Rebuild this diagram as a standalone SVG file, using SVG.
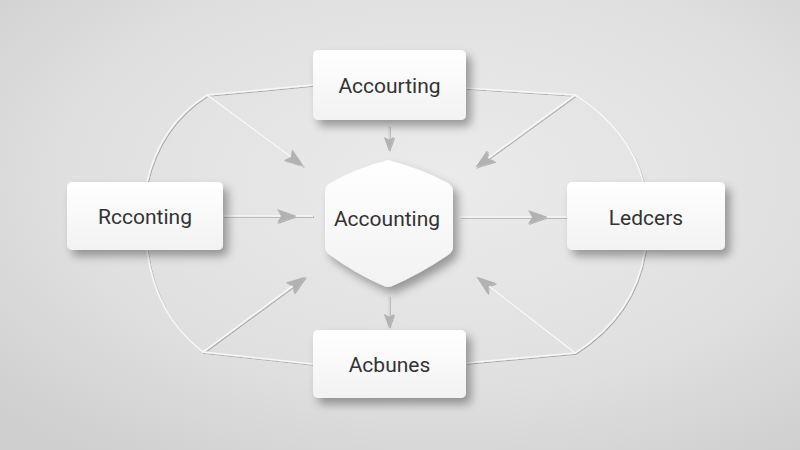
<svg xmlns="http://www.w3.org/2000/svg" width="800" height="450" viewBox="0 0 800 450">
<defs>
<radialGradient id="bg" cx="0.55" cy="0.4" r="0.75">
<stop offset="0" stop-color="#ebebeb"/>
<stop offset="0.6" stop-color="#e0e0e0"/>
<stop offset="1" stop-color="#cfcfcf"/>
</radialGradient>
<linearGradient id="nodefill" x1="0" y1="0" x2="0" y2="1">
<stop offset="0" stop-color="#ffffff"/>
<stop offset="1" stop-color="#f2f2f2"/>
</linearGradient>
<filter id="shadow" x="-20%" y="-20%" width="150%" height="160%">
<feGaussianBlur in="SourceAlpha" stdDeviation="5"/>
<feOffset dx="5" dy="6" result="b"/>
<feComponentTransfer><feFuncA type="linear" slope="0.35"/></feComponentTransfer>
<feMerge><feMergeNode/><feMergeNode in="SourceGraphic"/></feMerge>
</filter>
<filter id="lineshadow" x="-10%" y="-10%" width="120%" height="120%">
<feGaussianBlur in="SourceAlpha" stdDeviation="0.6"/>
<feOffset dx="0.5" dy="1" result="b"/>
<feComponentTransfer><feFuncA type="linear" slope="0.25"/></feComponentTransfer>
<feMerge><feMergeNode/><feMergeNode in="SourceGraphic"/></feMerge>
</filter>
<marker id="arr" viewBox="0 0 20 14" refX="19" refY="7" markerWidth="20" markerHeight="14" markerUnits="userSpaceOnUse" orient="auto">
<path d="M0,0 L20,7 L0,14 L4,7 Z" fill="#b2b2b2"/>
</marker>
<marker id="arrs" viewBox="0 0 16 12" refX="15" refY="6" markerWidth="14" markerHeight="11" markerUnits="userSpaceOnUse" orient="auto">
<path d="M0,0 L16,6 L0,12 L3,6 Z" fill="#b2b2b2"/>
</marker>
</defs>
<style>
.node{fill:url(#nodefill);filter:url(#shadow);}
.lbl{font-family:Roboto,"Noto Sans","Liberation Sans",sans-serif;font-size:21px;fill:#333333;text-anchor:middle;dominant-baseline:central;}
.ln{fill:none;stroke:#f7f7f7;stroke-width:1.6;}
.ar{fill:none;stroke:#f7f7f7;stroke-width:1.6;marker-end:url(#arr);}
.ars{fill:none;stroke:#d8d8d8;stroke-width:1.4;marker-end:url(#arrs);}
</style>
<rect width="800" height="450" fill="url(#bg)"/>
<g id="connectors" filter="url(#lineshadow)">
<path class="ln" d="M313,85 L207,95 Q160,125 147,182"/>
<path class="ln" d="M466,88 L575,95 Q630,130 643,182"/>
<path class="ln" d="M147,250 Q155,315 203,352 L313,364"/>
<path class="ln" d="M645,250 Q635,315 575,353 L466,363"/>
<path class="ar" d="M207,95 L303,166"/>
<path class="ar" d="M575,95 L476,167"/>
<path class="ar" d="M203,352 L305,277"/>
<path class="ar" d="M575,353 L477,277"/>
<path class="ar" d="M223,216 L296,216"/>
<path class="ln" d="M296,216 L313,216"/>
<path class="ar" d="M460,217 L547,217"/>
<path class="ln" d="M547,217 L567,217"/>
<path class="ars" d="M389,126 L389,150"/>
<path class="ars" d="M389,296 L389,327"/>
</g>
<g id="node-top">
<rect class="node" x="313" y="50" width="153" height="70" rx="5"/>
<text class="lbl" x="389.5" y="86">Accourting</text>
</g>
<g id="node-left">
<rect class="node" x="67" y="182" width="156" height="68" rx="5"/>
<text class="lbl" x="145" y="217">Rcconting</text>
</g>
<g id="node-right">
<rect class="node" x="567" y="182" width="158" height="68" rx="5"/>
<text class="lbl" x="646" y="218">Ledcers</text>
</g>
<g id="node-bottom">
<rect class="node" x="313" y="330" width="153" height="68" rx="5"/>
<text class="lbl" x="389.5" y="365">Acbunes</text>
</g>
<g id="node-center">
<path class="node" d="M388,160 Q420,168 448,183 Q453,186 453,192 L453,246 Q453,252 448,255 Q420,274 392,286 Q388,288 384,286 Q356,274 330,255 Q325,252 325,246 L325,192 Q325,186 330,183 Q356,168 388,160 Z"/>
<text class="lbl" x="387" y="219">Accounting</text>
</g>
</svg>
